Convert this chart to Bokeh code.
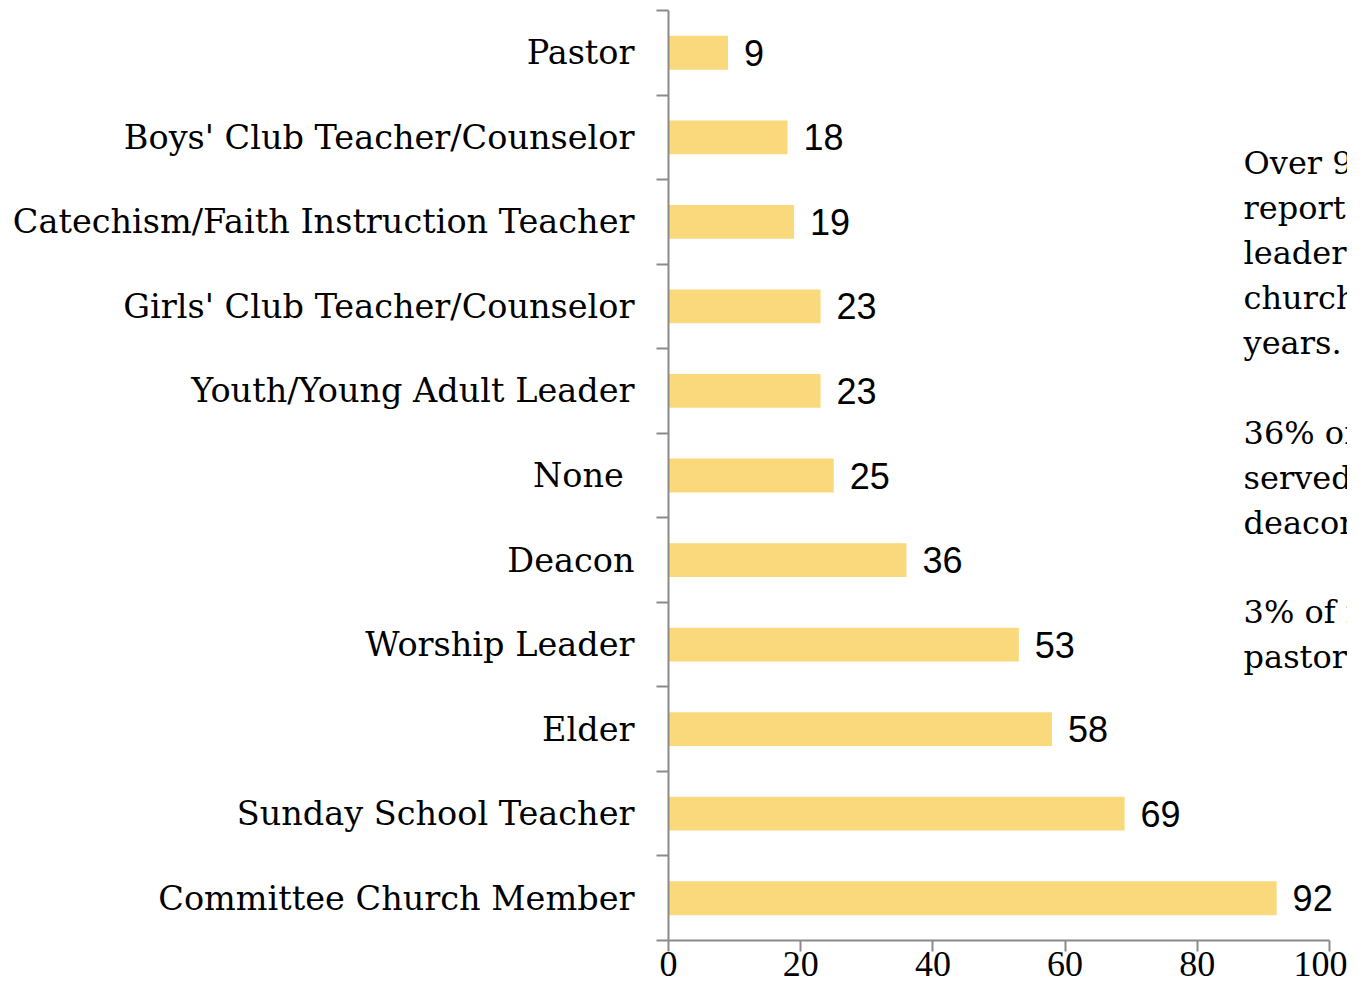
from bokeh.plotting import figure
from bokeh.models import Range1d, FixedTicker, ColumnDataSource, Label, LabelSet
from bokeh.core.properties import value
from bokeh.embed import file_html
from bokeh.resources import INLINE

categories = ["Pastor", "Boys' Club Teacher/Counselor", "Catechism/Faith Instruction Teacher",
              "Girls' Club Teacher/Counselor", "Youth/Young Adult Leader", "None ", "Deacon",
              "Worship Leader", "Elder", "Sunday School Teacher", "Committee Church Member"]
values = [9, 18, 19, 23, 23, 25, 36, 53, 58, 69, 92]
x_ticks = [0, 20, 40, 60, 80, 100]
notes = ["Over 90% of respondents", "reported serving in", "leadership roles in their",
         "church in the past 10", "years.", "",
         "36% of respondents", "served as elders or", "deacons.", "",
         "3% of respondents", "pastors."]

GRAY = "#8a8a8a"
W, H = 1347, 986
LEFT = 668
n = len(categories)
ypos = [n - i for i in range(n)]
source = ColumnDataSource(dict(y=ypos, v=values, lab=[str(v) for v in values]))

# frame reaches the right edge; axis line is bounded to 0..100
x_end = 100 * (W - LEFT) / 661.0

p = figure(width=W, height=H, x_range=Range1d(0, x_end), y_range=Range1d(0.5, n + 0.5),
           output_backend="svg", toolbar_location=None,
           min_border_left=LEFT, min_border_right=0, min_border_top=10, min_border_bottom=46)
p.outline_line_color = None
p.xgrid.grid_line_color = None
p.ygrid.grid_line_color = None
p.background_fill_color = "white"
p.border_fill_color = "white"

p.hbar(y="y", right="v", left=0, height=0.4, source=source, fill_color="#F9D97C", line_color=None)

labels = LabelSet(x="v", y="y", text="lab", source=source, x_offset=16, text_baseline="middle",
                  text_align="left", text_font=value("Liberation Sans"), text_font_size="36px",
                  text_color="black")
p.add_layout(labels)

# y axis
ya = p.yaxis[0]
ya.ticker = FixedTicker(ticks=ypos, minor_ticks=[i + 0.5 for i in range(n + 1)])
ya.major_label_overrides = {y: c for y, c in zip(ypos, categories)}
ya.major_tick_line_color = None
ya.major_tick_out = 0
ya.major_tick_in = 0
ya.minor_tick_out = 12
ya.minor_tick_in = 0
ya.minor_tick_line_color = GRAY
ya.minor_tick_line_width = 2
ya.axis_line_color = GRAY
ya.axis_line_width = 2
ya.major_label_standoff = 22
ya.major_label_text_font = "DejaVu Serif"
ya.major_label_text_font_size = "33.5px"
ya.major_label_text_color = "black"

# x axis
xa = p.xaxis[0]
xa.ticker = FixedTicker(ticks=x_ticks)
xa.bounds = (0, 100)
xa.major_tick_out = 11
xa.major_tick_in = 0
xa.major_tick_line_color = GRAY
xa.major_tick_line_width = 2
xa.minor_tick_line_color = None
xa.axis_line_color = GRAY
xa.axis_line_width = 2
xa.major_label_standoff = 0
xa.major_label_text_font = "Liberation Serif"
xa.major_label_text_font_size = "36px"
xa.major_label_text_color = "black"

note_top = 9.70
note_step = 0.532
for i, line in enumerate(notes):
    if line:
        p.add_layout(Label(x=87, y=note_top - i * note_step, text=line, text_baseline="middle",
                           text_align="left", text_font="DejaVu Serif",
                           text_font_size="32px", text_color="black"))

open("out.html", "w").write(file_html(p, INLINE))
